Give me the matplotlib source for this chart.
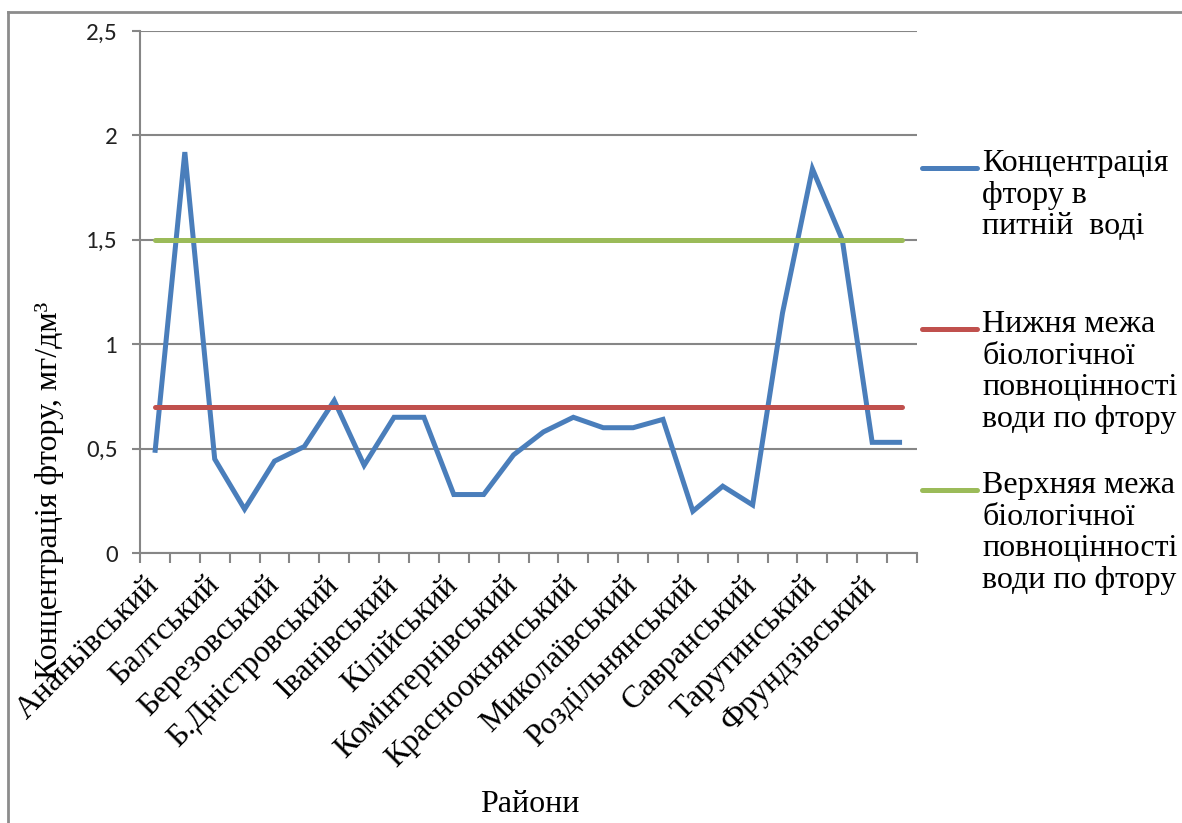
import matplotlib
matplotlib.use("Agg")
import matplotlib.pyplot as plt
from matplotlib.lines import Line2D
import numpy as np

# Districts of the region (x categories)
districts = [
    "Ананьївський", "Арцизький", "Балтський", "Білгород-Дністровський",
    "Березівський", "Болградський", "Б.Дністровський", "Великомихайлівський",
    "Іванівський", "Ізмаїльський", "Кілійський", "Кодимський",
    "Комінтернівський", "Котовський", "Красноокнянський", "Любашівський",
    "Миколаївський", "Овідіопольський", "Роздільнянський", "Ренійський",
    "Савранський", "Саратський", "Тарутинський", "Татарбунарський",
    "Фрундзівський", "Ширяївський",
]
# Labels shown under the axis (every other district)
tick_labels = [
    "Ананьївський", "Балтський", "Березовський", "Б.Дністровський",
    "Іванівський", "Кілійський", "Комінтернівський", "Красноокнянський",
    "Миколаївський", "Роздільнянський", "Савранський", "Тарутинський",
    "Фрундзівський",
]
# Fluoride concentration in drinking water, mg/dm3
fluoride = [0.48, 1.92, 0.45, 0.21, 0.44, 0.51, 0.73, 0.42, 0.65, 0.65,
            0.28, 0.28, 0.47, 0.58, 0.65, 0.60, 0.60, 0.64, 0.20, 0.32,
            0.23, 1.15, 1.84, 1.50, 0.53, 0.53]
lower_limit = 0.7
upper_limit = 1.5

series_labels = [
    "Концентрація\nфтору в\nпитній  воді",
    "Нижня межа\nбіологічної\nповноцінності\nводи по фтору",
    "Верхняя межа\nбіологічної\nповноцінності\nводи по фтору",
]
colors = ["#4A7EBB", "#C0504D", "#9BBB59"]

SERIF = ["Liberation Serif", "DejaVu Sans"]
SANS = ["Carlito", "Liberation Sans", "DejaVu Sans"]
plt.rcParams["font.family"] = SERIF

W, H = 1182, 823
fig = plt.figure(figsize=(W / 100, H / 100), dpi=100)
fig.patch.set_facecolor("white")

def fx(px):
    return px / W

def fy(py):
    return 1 - py / H

ax = fig.add_axes([fx(140), fy(553), fx(917) - fx(140), fy(31) - fy(553)])

n = len(fluoride)
x = np.arange(n)
lw = 3.6
l1, = ax.plot(x, fluoride, color=colors[0], lw=lw, solid_capstyle="butt",
              solid_joinstyle="miter", zorder=3)
l2, = ax.plot(x, [lower_limit] * n, color=colors[1], lw=lw,
              solid_capstyle="round", zorder=4)
l3, = ax.plot(x, [upper_limit] * n, color=colors[2], lw=lw,
              solid_capstyle="round", zorder=4)

ax.set_xlim(-0.5, n - 0.5)
ax.set_ylim(0, 2.5)

grid_c = "#868686"
for s in ["top", "right"]:
    ax.spines[s].set_visible(False)
for s in ["left", "bottom"]:
    ax.spines[s].set_color(grid_c)
    ax.spines[s].set_linewidth(1.5)

yt = [0, 0.5, 1, 1.5, 2, 2.5]
ax.set_yticks(yt)
ax.set_yticklabels(["0", "0,5", "1", "1,5", "2", "2,5"])
for t in ax.get_yticklabels():
    t.set_fontfamily(SANS)
    t.set_fontsize(18)
    t.set_color("#222222")
ax.tick_params(axis="y", length=6, width=1.5, color=grid_c, pad=10)
ax.yaxis.grid(True, color=grid_c, lw=1.5)
ax.set_axisbelow(True)

# category boundary ticks
ax.set_xticks(np.arange(-0.5, n, 1.0), minor=True)
ax.tick_params(axis="x", which="minor", length=7, width=1.5, color=grid_c)
ax.set_xticks(x[::2])
ax.set_xticklabels(tick_labels, rotation=45, ha="right", va="center",
                   rotation_mode="anchor", fontsize=23)
ax.tick_params(axis="x", which="major", length=0, pad=20)

fig.text(fx(50), fy(490), "Концентрація фтору, мг/дм³", rotation=90,
         ha="center", va="center", fontsize=23)
fig.text(fx(530), fy(805), "Райони", ha="center", va="center", fontsize=23)

# legend to the right of the plot
first_line_y = [168, 329, 490]
for line, label, yy in zip([l1, l2, l3], series_labels, first_line_y):
    fig.add_artist(Line2D([fx(922), fx(977)], [fy(yy), fy(yy)],
                          color=line.get_color(), lw=lw,
                          solid_capstyle="round"))
    fig.text(fx(982), fy(yy - 19), label, ha="left", va="top",
             fontsize=23, linespacing=1.12)

# outer chart frame (top and left edges)
fig.add_artist(Line2D([fx(8), fx(8)], [fy(12), 0], color="#8c8c8c", lw=2))
fig.add_artist(Line2D([fx(8), 1], [fy(12), fy(12)], color="#8c8c8c", lw=2))

fig.savefig("out.png", dpi=100)
